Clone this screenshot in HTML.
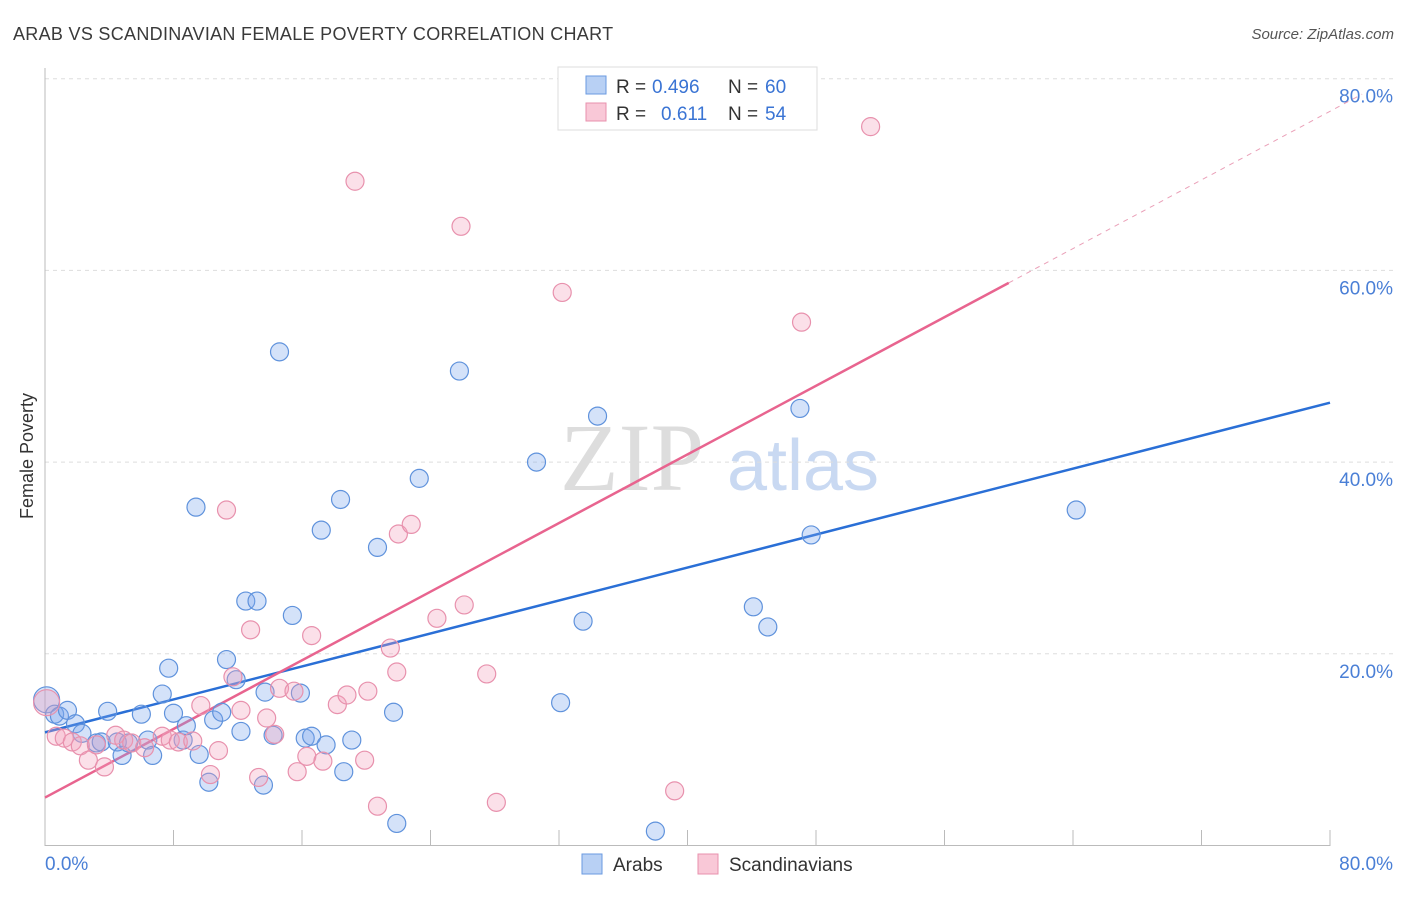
<!DOCTYPE html>
<html><head><meta charset="utf-8"><style>
body{margin:0;background:#fff;font-family:"Liberation Sans",sans-serif}
#c{position:relative;width:1406px;height:892px}
</style></head><body>
<div id="c">
<svg id="s" width="1406" height="892" xmlns="http://www.w3.org/2000/svg" font-family="Liberation Sans, sans-serif">
<text x="13" y="40" font-size="18" fill="#3a3a3a" letter-spacing="0.3">ARAB VS SCANDINAVIAN FEMALE POVERTY CORRELATION CHART</text>
<text x="1394" y="39" font-size="15" fill="#555" text-anchor="end" font-style="italic">Source: ZipAtlas.com</text>
<text transform="translate(33,456) rotate(-90)" font-size="18" fill="#333" text-anchor="middle">Female Poverty</text>
<g><text x="632" y="490" font-size="96" fill="#ddd" font-family="Liberation Serif, serif" text-anchor="middle">ZIP</text><text x="803" y="490" font-size="72" fill="#c9d9f2" text-anchor="middle">atlas</text></g>
<g id="grid"></g><g id="trend"></g><g id="pts"></g>
<g>
<rect x="558" y="67" width="259" height="63" fill="#fff" stroke="#ddd"/>
<rect x="586" y="76" width="20" height="18" fill="#b8d0f4" stroke="#6a9ae0"/>
<text y="93" font-size="19" fill="#333"><tspan x="616">R =</tspan><tspan x="652" fill="#3a74d4">0.496</tspan><tspan x="728">N =</tspan><tspan x="765" fill="#3a74d4">60</tspan></text>
<rect x="586" y="103" width="20" height="18" fill="#f9c8d7" stroke="#e891ad"/>
<text y="120" font-size="19" fill="#333"><tspan x="616">R =</tspan><tspan x="661" fill="#3a74d4">0.611</tspan><tspan x="728">N =</tspan><tspan x="765" fill="#3a74d4">54</tspan></text>
</g>
<g>
<rect x="582" y="854" width="20" height="20" fill="#b8d0f4" stroke="#6a9ae0"/>
<text x="613" y="871" font-size="19" fill="#333">Arabs</text>
<rect x="698" y="854" width="20" height="20" fill="#f9c8d7" stroke="#e891ad"/>
<text x="729" y="871" font-size="19" fill="#333">Scandinavians</text>
</g>
</svg></div>
<script>
const yTicks=[20,40,60,80];
const xTickVals=[0,8,16,24,32,40,48,56,64,72,80];
const arabX=[0.1,0.6,0.9,1.4,1.9,2.3,3.2,3.5,3.9,4.5,4.8,5.2,6.0,6.4,6.7,7.3,7.7,8.0,8.6,8.8,9.4,9.6,10.2,10.5,11.0,11.3,11.9,12.2,12.5,13.2,13.6,13.7,14.2,14.6,15.4,15.9,16.2,16.6,17.2,17.5,18.4,18.6,19.1,20.7,21.7,21.9,23.3,25.8,30.6,32.1,33.5,34.4,38.0,44.1,45.0,47.0,47.7,64.2];
const arabY=[15.2,13.7,13.5,14.1,12.7,11.7,10.7,10.8,14.0,10.8,9.4,10.7,13.7,11.0,9.4,15.8,18.5,13.8,11.0,12.5,35.3,9.5,6.6,13.1,13.9,19.4,17.3,11.9,25.5,25.5,6.3,16.0,11.5,51.5,24.0,15.9,11.2,11.4,32.9,10.5,36.1,7.7,11.0,31.1,13.9,2.3,38.3,49.5,40.0,14.9,23.4,44.8,1.5,24.9,22.8,45.6,32.4,35.0];
const scanX=[0.1,0.7,1.2,1.7,2.2,2.7,3.2,3.7,4.4,4.9,5.4,6.2,7.3,7.8,8.3,9.2,9.7,10.3,10.8,11.3,11.7,12.2,12.8,13.3,13.8,14.3,14.6,15.5,15.7,16.3,16.6,17.3,18.2,18.8,19.3,19.9,20.1,20.7,21.5,21.9,22.0,22.8,24.4,25.9,26.1,27.5,28.1,32.2,39.2,47.1,51.4];
const scanY=[14.9,11.4,11.2,10.8,10.4,8.9,10.5,8.2,11.5,11.0,10.7,10.2,11.4,11.0,10.8,10.9,14.6,7.4,9.9,35.0,17.6,14.1,22.5,7.1,13.3,11.6,16.4,16.1,7.7,9.3,21.9,8.8,14.7,15.7,69.3,8.9,16.1,4.1,20.6,18.1,32.5,33.5,23.7,64.6,25.1,17.9,4.5,57.7,5.7,54.6,75.0];
const arabTrend=[11.8,46.2];
const scanTrend=[5.0,0.895];
const NS='http://www.w3.org/2000/svg';
const X=v=>45+v*1285/80, Y=v=>845.5-v*191.7/20;
function mk(t,a,p){const e=document.createElementNS(NS,t);for(const k in a)e.setAttribute(k,a[k]);p.appendChild(e);return e;}
const g=document.getElementById('grid');
yTicks.forEach(v=>{
 const l=mk('line',{x1:45,x2:1393,y1:Y(v),y2:Y(v),stroke:'#ddd','stroke-dasharray':'4,4'},g);
 
 
 const t=mk('text',{x:1393,y:Y(v)+24,'font-size':19,fill:'#4a7fd6','text-anchor':'end'},g);t.textContent=v.toFixed(1)+'%';
 
 
});
mk('line',{x1:45,x2:45,y1:68,y2:846,stroke:'#bbb'},g);
mk('line',{x1:45,x2:1330,y1:845.5,y2:845.5,stroke:'#bbb'},g);
xTickVals.forEach(v=>{const l=mk('line',{x1:X(v),x2:X(v),y1:830,y2:846,stroke:'#bbb'},g);
 
 });
let t0=mk('text',{x:45,y:870,'font-size':19,fill:'#4a7fd6'},g);t0.textContent='0.0%';


let t1=mk('text',{x:1393,y:870,'font-size':19,fill:'#4a7fd6','text-anchor':'end'},g);t1.textContent='80.0%';


const tr=document.getElementById('trend');
const pts=document.getElementById('pts');
function dots(xs,ys,fill,stroke,name){xs.forEach((x,i)=>{const c=mk('circle',{cx:X(x),cy:Y(ys[i]),r:i===0?13:9,fill:fill,stroke:stroke,'stroke-width':1.2},pts);
 
 });}
dots(arabX,arabY,'rgba(120,165,235,0.32)','#5f92dc','arab-point');
dots(scanX,scanY,'rgba(242,160,188,0.32)','#e891ad','scandinavian-point');
let bl=mk('line',{x1:X(0),y1:Y(arabTrend[0]),x2:X(80),y2:Y(arabTrend[1]),stroke:'#2a6fd6','stroke-width':2.5},tr);


const ps=x=>scanTrend[0]+scanTrend[1]*x;
let pl=mk('line',{x1:X(0),y1:Y(ps(0)),x2:X(60),y2:Y(ps(60)),stroke:'#e8648f','stroke-width':2.5},tr);


let pd=mk('line',{x1:X(60),y1:Y(ps(60)),x2:X(82),y2:Y(ps(82)),stroke:'#eaa0b8','stroke-width':1,'stroke-dasharray':'5,5'},tr);


</script>
</body></html>
